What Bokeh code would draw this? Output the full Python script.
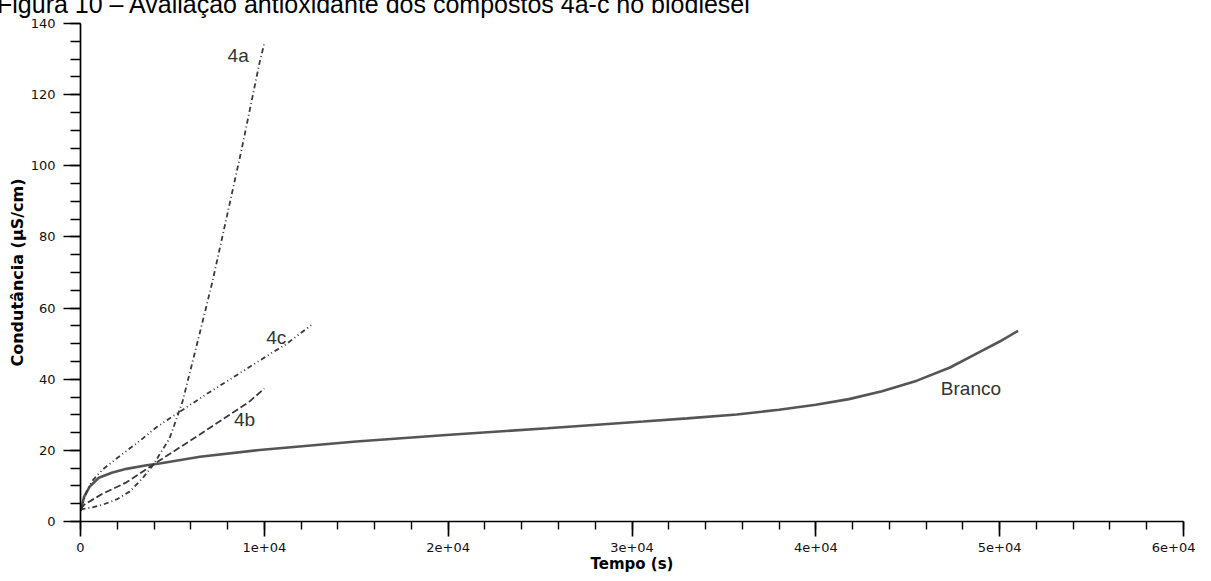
from bokeh.plotting import figure
from bokeh.models import Range1d, FixedTicker, Div
from bokeh.layouts import column
from bokeh.core.properties import value
from bokeh.embed import file_html
from bokeh.resources import INLINE

# ---------------- data ----------------
title_text = "Figura 10 – Avaliação antioxidante dos compostos 4a-c no biodiesel"
x_label = "Tempo (s)"
y_label = "Condutância (µS/cm)"

x_major = [0, 10000, 20000, 30000, 40000, 50000, 60000]
x_major_labels = ["0", "1e+04", "2e+04", "3e+04", "4e+04", "5e+04", "6e+04"]
x_minor = [0, 2000, 4000, 6000, 8000, 10000, 12000, 14000, 16000, 18000, 20000,
           22000, 24000, 26000, 28000, 30000, 32000, 34000, 36000, 38000, 40000,
           42000, 44000, 46000, 48000, 50000, 52000, 54000, 56000, 58000, 60000]
y_major = [0, 20, 40, 60, 80, 100, 120, 140]
y_minor = [0, 5, 10, 15, 20, 25, 30, 35, 40, 45, 50, 55, 60, 65, 70, 75, 80, 85,
           90, 95, 100, 105, 110, 115, 120, 125, 130, 135, 140]

branco_t = [0, 200, 500, 1000, 1700, 2500, 3600, 4300, 6500, 9740, 15000, 20100,
            25400, 30600, 33000, 35700, 38000, 40000, 41800, 43600, 45500, 47300,
            49000, 50000, 51000]
branco_v = [3.0, 7.0, 9.8, 12.3, 13.7, 14.8, 15.8, 16.3, 18.2, 20.1, 22.5, 24.4,
            26.2, 28.1, 29.0, 30.1, 31.4, 32.8, 34.4, 36.6, 39.6, 43.3,
            47.9, 50.6, 53.6]

c4a_t = [0, 650, 1200, 1960, 2670, 3370, 3920, 4840, 5550, 6470, 7180, 8100,
         8760, 9360, 9740, 10000]
c4a_v = [3.4, 4.0, 4.7, 6.2, 8.4, 12.1, 15.7, 23.3, 33.7, 52.6, 67.5, 89.0,
         104.5, 119.5, 129.0, 134.4]

c4b_t = [0, 220, 1200, 2500, 3900, 6470, 9190, 10000]
c4b_v = [3.5, 4.8, 7.8, 11.0, 15.8, 24.4, 33.7, 37.4]

c4c_t = [0, 300, 600, 1200, 1960, 2670, 3210, 4130, 4680, 6850, 8270, 10100,
         11200, 12600]
c4c_v = [3.2, 8.0, 11.2, 14.6, 17.7, 20.5, 22.6, 26.5, 28.4, 35.8, 40.4, 46.4,
         49.9, 55.4]

series_labels = ["4a", "4b", "4c", "Branco"]
label_t = [8000, 8350, 10100, 46800]
label_v = [130.9, 28.8, 51.8, 37.5]

# ---------------- figure ----------------
fig = figure(width=1195, height=563, output_backend="svg", toolbar_location=None,
             x_range=Range1d(0, 60000), y_range=Range1d(0, 140),
             min_border_left=80, min_border_right=12, min_border_top=11,
             min_border_bottom=53)
fig.outline_line_color = None
fig.grid.visible = False
fig.background_fill_color = "white"
fig.border_fill_color = None

xa = fig.xaxis[0]
xa.ticker = FixedTicker(ticks=x_major, minor_ticks=x_minor)
xa.major_label_overrides = {t: s for t, s in zip(x_major, x_major_labels)}
ya = fig.yaxis[0]
ya.ticker = FixedTicker(ticks=y_major, minor_ticks=y_minor)

for ax in (xa, ya):
    ax.axis_line_color = "black"
    ax.axis_line_width = 1.7
    ax.major_tick_line_color = "black"
    ax.minor_tick_line_color = "black"
    ax.major_tick_line_width = 1.7
    ax.minor_tick_line_width = 1.4
    ax.major_tick_in = 0
    ax.minor_tick_in = 0
    ax.major_label_text_font = "DejaVu Sans"
    ax.major_label_text_font_size = "13px"
    ax.major_label_text_color = "#111111"
    ax.axis_label_text_font = "DejaVu Sans"
    ax.axis_label_text_font_style = "bold"
    ax.axis_label_text_color = "black"

xa.major_tick_out = 15
xa.minor_tick_out = 8
xa.major_label_standoff = 6
xa.axis_label = x_label
xa.axis_label_standoff = 0
xa.axis_label_text_font_size = "15px"

ya.major_tick_out = 17
ya.minor_tick_out = 10
ya.major_label_standoff = 8
ya.axis_label = y_label
ya.axis_label_standoff = 1
ya.axis_label_text_font_size = "16px"

fig.line(branco_t, branco_v, line_color="#555555", line_width=2.6)
fig.line(c4a_t, c4a_v, line_color="#3a3a3a", line_width=1.8, line_dash="5 3 1 3")
fig.line(c4b_t, c4b_v, line_color="#3a3a3a", line_width=1.8, line_dash="7 3")
fig.line(c4c_t, c4c_v, line_color="#3a3a3a", line_width=1.8, line_dash="5 3 1 3 1 3")

fig.text(x=label_t, y=label_v, text=series_labels, text_font=value("Liberation Sans"),
         text_font_size="19px", text_color="#333333", text_align="left",
         text_baseline="middle")

# title, partly cut off at the top of the page as in the reference
title_div = Div(
    text=('<div style="font-family:\'Liberation Sans\',Arial,sans-serif;font-size:25px;'
          'line-height:25px;white-space:nowrap;position:relative;top:-13px;'
          'left:-8px;color:black;">' + title_text + '</div>'),
    width=1195, height=2, styles={"overflow": "visible"})

p = column(title_div, fig, spacing=0)

open("out.html", "w").write(file_html(p, INLINE))
